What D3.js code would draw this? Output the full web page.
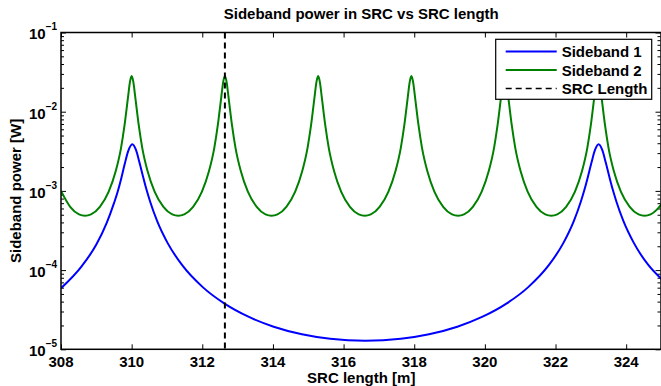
<!DOCTYPE html>
<html>
<head>
<meta charset="utf-8">
<script src="https://cdn.jsdelivr.net/npm/d3@7"></script>
<style>
    body { margin: 0; background: #fff; }
    svg { display: block; font-family: "Liberation Sans", Arial, Helvetica, sans-serif; font-weight: bold; }
    .axis path { display: none; }
    .axis line { stroke: #000; stroke-width: 1; }
    .frame { fill: none; stroke: #000; stroke-width: 1.5; }
    .curve { fill: none; stroke-width: 2; }
</style>
</head>
<body>
<svg id="chart" width="661" height="386"></svg>
<script>
// ---- data ----
let xTicks = [308, 310, 312, 314, 316, 318, 320, 322, 324];
let yDecades = [1e-5, 1e-4, 1e-3, 1e-2, 1e-1];
let seriesNames = ["Sideband 1", "Sideband 2", "SRC Length"];
let srcLength = 312.64;

let sb1X = [308.0, 308.6, 309.0, 309.3, 309.5, 309.6, 309.7, 309.8, 309.9, 310.02,
            310.12, 310.22, 310.32, 310.42, 310.52, 310.72, 311.02, 311.42, 312.02, 312.62,
            313.32, 314.02, 314.82, 315.62, 316.62, 317.62, 318.42, 319.22, 319.92, 320.62,
            321.22, 321.82, 322.22, 322.52, 322.72, 322.82, 322.92, 323.02, 323.12, 323.22,
            323.32, 323.42, 323.52, 323.62, 323.72, 323.92, 324.22, 324.62, 325.0];
let sb1Power = [5.9e-5, 1.14e-4, 2.1e-4, 4.0e-4, 7.0e-4, 9.6e-4, 1.4e-3, 2.15e-3, 3.15e-3, 3.87e-3,
                3.31e-3, 2.30e-3, 1.53e-3, 1.04e-3, 7.4e-4, 4.18e-4, 2.19e-4, 1.17e-4, 6.05e-5, 3.80e-5,
                2.56e-5, 1.93e-5, 1.55e-5, 1.36e-5, 1.286e-5, 1.36e-5, 1.55e-5, 1.93e-5, 2.56e-5, 3.80e-5,
                6.05e-5, 1.17e-4, 2.19e-4, 4.18e-4, 7.4e-4, 1.04e-3, 1.53e-3, 2.30e-3, 3.31e-3, 3.87e-3,
                3.31e-3, 2.30e-3, 1.53e-3, 1.04e-3, 7.4e-4, 4.18e-4, 2.19e-4, 1.17e-4, 7.7e-5];

let sb2X = [308.0, 308.26, 308.51, 308.68, 308.85, 309.1, 309.35, 309.55, 309.7, 309.8, 309.9, 309.95, 310.0,
            310.05, 310.1, 310.2, 310.3, 310.45, 310.65, 310.9, 311.15, 311.32, 311.49, 311.74, 311.99, 312.19, 312.34, 312.44, 312.54, 312.59, 312.64,
            312.69, 312.74, 312.84, 312.94, 313.09, 313.29, 313.54, 313.79, 313.96, 314.13, 314.38, 314.63, 314.83, 314.98, 315.08, 315.18, 315.23, 315.28,
            315.33, 315.38, 315.48, 315.58, 315.73, 315.93, 316.18, 316.43, 316.6, 316.77, 317.02, 317.27, 317.47, 317.62, 317.72, 317.82, 317.87, 317.92,
            317.97, 318.02, 318.12, 318.22, 318.37, 318.57, 318.82, 319.07, 319.24, 319.41, 319.66, 319.91, 320.11, 320.26, 320.36, 320.46, 320.51, 320.56,
            320.61, 320.66, 320.76, 320.86, 321.01, 321.21, 321.46, 321.71, 321.88, 322.05, 322.3, 322.55, 322.75, 322.9, 323.0, 323.1, 323.15, 323.2,
            323.25, 323.3, 323.4, 323.5, 323.65, 323.85, 324.1, 324.35, 324.52, 324.69, 324.94, 325.0];
let sb2Power = [1.0e-3, 6.3e-4, 5.06e-4, 4.86e-4, 5.06e-4, 6.3e-4, 9.8e-4, 1.78e-3, 3.5e-3, 6.8e-3, 1.56e-2, 2.35e-2, 2.82e-2,
                2.35e-2, 1.56e-2, 6.8e-3, 3.5e-3, 1.78e-3, 9.8e-4, 6.3e-4, 5.06e-4, 4.86e-4, 5.06e-4, 6.3e-4, 9.8e-4, 1.78e-3, 3.5e-3, 6.8e-3, 1.56e-2, 2.35e-2, 2.82e-2,
                2.35e-2, 1.56e-2, 6.8e-3, 3.5e-3, 1.78e-3, 9.8e-4, 6.3e-4, 5.06e-4, 4.86e-4, 5.06e-4, 6.3e-4, 9.8e-4, 1.78e-3, 3.5e-3, 6.8e-3, 1.56e-2, 2.35e-2, 2.82e-2,
                2.35e-2, 1.56e-2, 6.8e-3, 3.5e-3, 1.78e-3, 9.8e-4, 6.3e-4, 5.06e-4, 4.86e-4, 5.06e-4, 6.3e-4, 9.8e-4, 1.78e-3, 3.5e-3, 6.8e-3, 1.56e-2, 2.35e-2, 2.82e-2,
                2.35e-2, 1.56e-2, 6.8e-3, 3.5e-3, 1.78e-3, 9.8e-4, 6.3e-4, 5.06e-4, 4.86e-4, 5.06e-4, 6.3e-4, 9.8e-4, 1.78e-3, 3.5e-3, 6.8e-3, 1.56e-2, 2.35e-2, 2.82e-2,
                2.35e-2, 1.56e-2, 6.8e-3, 3.5e-3, 1.78e-3, 9.8e-4, 6.3e-4, 5.06e-4, 4.86e-4, 5.06e-4, 6.3e-4, 9.8e-4, 1.78e-3, 3.5e-3, 6.8e-3, 1.56e-2, 2.35e-2, 2.82e-2,
                2.35e-2, 1.56e-2, 6.8e-3, 3.5e-3, 1.78e-3, 9.8e-4, 6.3e-4, 5.06e-4, 4.86e-4, 5.06e-4, 6.3e-4, 6.8e-4];

// ---- layout ----
let svg = d3.select("#chart");
let mLeft = 61, mRight = 661.5, mTop = 32.5, mBottom = 349.3;

let x = d3.scaleLinear().domain([308, 325]).range([mLeft, mRight]);
let y = d3.scaleLog().domain([1e-5, 1e-1]).range([mBottom, mTop]);

let yMinor = [];
for (let d of yDecades.slice(0, -1)) {
    for (let k = 2; k <= 9; k++) yMinor.push(d * k);
}

svg.append("clipPath").attr("id", "clip")
    .append("rect").attr("x", mLeft).attr("y", mTop)
    .attr("width", mRight - mLeft).attr("height", mBottom - mTop);

// ticks on all four sides, pointing inwards
svg.append("g").attr("class", "axis")
    .attr("transform", `translate(0,${mBottom})`)
    .call(d3.axisBottom(x).tickValues(xTicks).tickSize(-5).tickFormat(""));
svg.append("g").attr("class", "axis")
    .attr("transform", `translate(0,${mTop})`)
    .call(d3.axisTop(x).tickValues(xTicks).tickSize(-5).tickFormat(""));
svg.append("g").attr("class", "axis")
    .attr("transform", `translate(${mLeft},0)`)
    .call(d3.axisLeft(y).tickValues(yDecades).tickSize(-5).tickFormat(""));
svg.append("g").attr("class", "axis")
    .attr("transform", `translate(${mLeft},0)`)
    .call(d3.axisLeft(y).tickValues(yMinor).tickSize(-3).tickFormat(""));
svg.append("g").attr("class", "axis")
    .attr("transform", `translate(${mRight - 1},0)`)
    .call(d3.axisRight(y).tickValues(yDecades).tickSize(-5).tickFormat(""));
svg.append("g").attr("class", "axis")
    .attr("transform", `translate(${mRight - 1},0)`)
    .call(d3.axisRight(y).tickValues(yMinor).tickSize(-3).tickFormat(""));

// tick labels
svg.selectAll(".xlab").data(xTicks).enter().append("text")
    .attr("x", d => x(d)).attr("y", mBottom + 17.5)
    .attr("text-anchor", "middle").style("font-size", "15px")
    .text(d => d);

let ylab = svg.selectAll(".ylab").data(yDecades).enter().append("text")
    .attr("y", d => y(d) + 6.8).style("font-size", "15px");
ylab.append("tspan").attr("x", 29).text("10");
ylab.append("tspan").attr("dy", -9).style("font-size", "10px")
    .text(d => "\u2212" + Math.round(-Math.log10(d)));

// curves
let line = d3.line().x(d => x(d[0])).y(d => y(d[1])).curve(d3.curveMonotoneX);
let g = svg.append("g").attr("clip-path", "url(#clip)");
g.append("path").attr("class", "curve").attr("stroke", "#008000")
    .attr("d", line(d3.zip(sb2X, sb2Power)));
g.append("path").attr("class", "curve").attr("stroke", "#0000ff")
    .attr("d", line(d3.zip(sb1X, sb1Power)));
g.append("line")
    .attr("x1", x(srcLength)).attr("x2", x(srcLength))
    .attr("y1", mTop).attr("y2", mBottom)
    .attr("stroke", "#000").attr("stroke-width", 2).attr("stroke-dasharray", "6,4");

// frame
svg.append("rect").attr("class", "frame")
    .attr("x", mLeft).attr("y", mTop)
    .attr("width", mRight - mLeft - 0.5).attr("height", mBottom - mTop);

// titles
svg.append("text").attr("x", (mLeft + mRight) / 2).attr("y", 19)
    .attr("text-anchor", "middle").style("font-size", "15px")
    .text("Sideband power in SRC vs SRC length");
svg.append("text").attr("x", (mLeft + mRight) / 2).attr("y", 383)
    .attr("text-anchor", "middle").style("font-size", "15px")
    .text("SRC length [m]");
svg.append("text").attr("transform", `translate(21,${(mTop + mBottom) / 2}) rotate(-90)`)
    .attr("text-anchor", "middle").style("font-size", "15px")
    .text("Sideband power [W]");

// legend
let legend = svg.append("g");
legend.append("rect").attr("x", 495.7).attr("y", 39.3).attr("width", 156).attr("height", 60)
    .attr("fill", "#fff").attr("stroke", "#000").attr("stroke-width", 1.2);
let legStroke = ["#0000ff", "#008000", "#000"];
let legDash = [null, null, "6,4"];
seriesNames.forEach((name, i) => {
    let yy = 51.5 + i * 18.5;
    legend.append("line").attr("x1", 505.7).attr("x2", 556.7)
        .attr("y1", yy).attr("y2", yy)
        .attr("stroke", legStroke[i]).attr("stroke-width", i == 2 ? 1.5 : 2)
        .attr("stroke-dasharray", legDash[i]);
    legend.append("text").attr("x", 561.7).attr("y", yy + 5.5)
        .style("font-size", "15px").text(name);
});
</script>
</body>
</html>
